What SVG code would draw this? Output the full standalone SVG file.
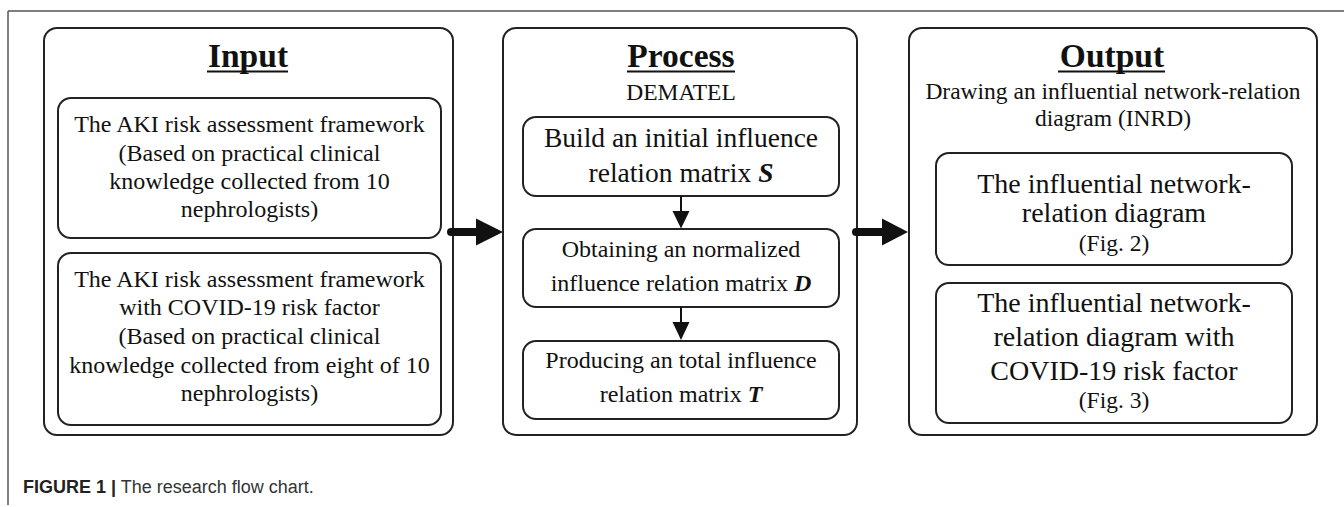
<svg xmlns="http://www.w3.org/2000/svg" width="1344" height="507" viewBox="0 0 1344 507">
<style>
.box{fill:#fff;stroke:#222;stroke-width:2}
.t{font-family:"Liberation Serif","Times New Roman",serif;fill:#111;text-anchor:middle}
.b24{font-size:24px}
.b28{font-size:27.5px}
.title{font-size:33.5px;font-weight:bold}
.m{font-weight:bold;font-style:italic}
.ul{stroke:#111;stroke-width:2.2}
.cap{font-family:"Liberation Sans",Arial,sans-serif;font-size:18px;fill:#333}
</style>
<defs>
<marker id="ah" markerWidth="10" markerHeight="10" refX="10" refY="5" orient="auto" markerUnits="userSpaceOnUse" viewBox="0 0 10 10">
<path d="M0,0 L10,5 L0,10 Z" fill="#111"/>
</marker>
</defs>
<rect width="1344" height="507" fill="#fff"/>
<g id="frame">
<line x1="8" y1="11" x2="1344" y2="11" stroke="#555" stroke-width="1.5"/>
<line x1="8" y1="11" x2="8" y2="505" stroke="#555" stroke-width="1.5"/>
</g>
<g id="input">
<rect class="box" x="44" y="28" width="409" height="407" rx="13"/>
<text class="t title" x="248" y="67">Input</text>
<line class="ul" x1="207" y1="71.5" x2="288" y2="71.5"/>
</g>
<g id="input1">
<rect class="box" x="58" y="98" width="383" height="140" rx="13"/>
<text class="t b24" x="249.5" y="132">The AKI risk assessment framework</text>
<text class="t b24" x="249.5" y="160.5">(Based on practical clinical</text>
<text class="t b24" x="249.5" y="189">knowledge collected from 10</text>
<text class="t b24" x="249.5" y="217">nephrologists)</text>
</g>
<g id="input2">
<rect class="box" x="58" y="253" width="383" height="172" rx="13"/>
<text class="t b24" x="249.5" y="287">The AKI risk assessment framework</text>
<text class="t b24" x="249.5" y="315">with COVID-19 risk factor</text>
<text class="t b24" x="249.5" y="344">(Based on practical clinical</text>
<text class="t b24" x="249.5" y="372.5">knowledge collected from eight of 10</text>
<text class="t b24" x="249.5" y="401">nephrologists)</text>
</g>
<g id="process">
<rect class="box" x="503" y="28" width="354" height="407" rx="13"/>
<text class="t title" x="681" y="67">Process</text>
<line class="ul" x1="627" y1="71.5" x2="735" y2="71.5"/>
<text class="t b24" x="681" y="100" style="font-size:23.5px">DEMATEL</text>
</g>
<g id="stepS">
<rect class="box" x="523" y="117" width="316" height="79" rx="13"/>
<text class="t b28" x="681" y="147">Build an initial influence</text>
<text class="t b28" x="681" y="181.5">relation matrix<tspan class="m" dx="7">S</tspan></text>
</g>
<g id="stepD">
<rect class="box" x="523" y="229" width="316" height="78" rx="13"/>
<text class="t b24" x="681" y="257">Obtaining an normalized</text>
<text class="t b24" x="681" y="290.5">influence relation matrix<tspan class="m" dx="6">D</tspan></text>
</g>
<g id="stepT">
<rect class="box" x="523" y="341" width="316" height="78" rx="13"/>
<text class="t b24" x="681" y="368">Producing an total influence</text>
<text class="t b24" x="681" y="401.5">relation matrix<tspan class="m" dx="6">T</tspan></text>
</g>
<g id="output">
<rect class="box" x="909" y="28" width="408" height="407" rx="13"/>
<text class="t title" x="1112" y="67">Output</text>
<line class="ul" x1="1058" y1="71.5" x2="1165" y2="71.5"/>
<text class="t b24" x="1113" y="98.5" style="font-size:23.5px">Drawing an influential network-relation</text>
<text class="t b24" x="1113" y="126" style="font-size:23.5px">diagram (INRD)</text>
</g>
<g id="fig2">
<rect class="box" x="936" y="153" width="356" height="112" rx="13"/>
<text class="t" x="1114" y="192.5" style="font-size:28px">The influential network-</text>
<text class="t" x="1114" y="221.5" style="font-size:28px">relation diagram</text>
<text class="t" x="1114" y="250.5" style="font-size:23.5px">(Fig. 2)</text>
</g>
<g id="fig3">
<rect class="box" x="936" y="283" width="356" height="140" rx="13"/>
<text class="t" x="1114" y="311.5" style="font-size:28px">The influential network-</text>
<text class="t" x="1114" y="345.5" style="font-size:28px">relation diagram with</text>
<text class="t" x="1114" y="379.5" style="font-size:28px">COVID-19 risk factor</text>
<text class="t" x="1114" y="408" style="font-size:23.5px">(Fig. 3)</text>
</g>
<g id="connectors">
<line x1="451" y1="232" x2="477" y2="232" stroke="#111" stroke-width="8" stroke-linecap="round"/>
<path d="M476,218.5 L503,232 L476,245.5 Z" fill="#111"/>
<line x1="856" y1="232" x2="884" y2="232" stroke="#111" stroke-width="8" stroke-linecap="round"/>
<path d="M882,218.5 L908,232 L882,245.5 Z" fill="#111"/>
<line x1="681" y1="196" x2="681" y2="212" stroke="#111" stroke-width="2"/>
<path d="M672.5,211 L689.5,211 L681,228.5 Z" fill="#111"/>
<line x1="681" y1="307" x2="681" y2="323" stroke="#111" stroke-width="2"/>
<path d="M672.5,322 L689.5,322 L681,340 Z" fill="#111"/>
</g>
<g id="caption">
<text class="cap" x="23" y="493"><tspan font-weight="bold" fill="#222">FIGURE 1 |</tspan> The research flow chart.</text>
</g>
</svg>
